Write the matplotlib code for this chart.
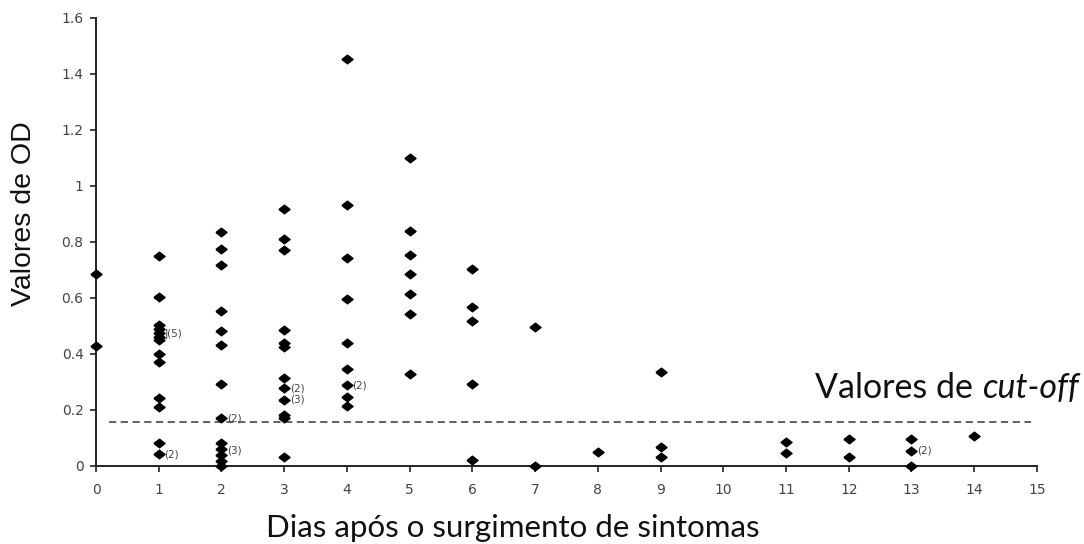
import matplotlib
matplotlib.use("Agg")
import matplotlib.pyplot as plt
from matplotlib.ticker import FuncFormatter

# dias apos o surgimento de sintomas e valores de OD
dia = [0, 0,
       1, 1, 1, 1, 1, 1, 1, 1, 1, 1, 1, 1, 1,
       2, 2, 2, 2, 2, 2, 2, 2, 2, 2, 2, 2, 2,
       3, 3, 3, 3, 3, 3, 3, 3, 3, 3, 3, 3,
       4, 4, 4, 4, 4, 4, 4, 4, 4,
       5, 5, 5, 5, 5, 5, 5,
       6, 6, 6, 6, 6,
       7, 7,
       8,
       9, 9, 9,
       11, 11,
       12, 12,
       13, 13, 13,
       14]
od = [0.687, 0.427,
      0.75, 0.604, 0.505, 0.49, 0.476, 0.462, 0.45, 0.40, 0.37, 0.242, 0.212, 0.083, 0.042,
      0.836, 0.776, 0.717, 0.553, 0.482, 0.432, 0.292, 0.17, 0.081, 0.060, 0.039, 0.019, 0.0,
      0.918, 0.809, 0.770, 0.486, 0.440, 0.426, 0.313, 0.277, 0.236, 0.182, 0.170, 0.033,
      1.452, 0.932, 0.742, 0.595, 0.438, 0.345, 0.289, 0.248, 0.214,
      1.101, 0.839, 0.754, 0.686, 0.614, 0.543, 0.329,
      0.705, 0.569, 0.518, 0.292, 0.021,
      0.498, 0.0,
      0.051,
      0.336, 0.067, 0.033,
      0.087, 0.045,
      0.096, 0.033,
      0.096, 0.054, 0.0,
      0.108]

# contagens repetidas marcadas ao lado dos pontos
rot_dia = [1, 1, 2, 2, 3, 3, 4, 13]
rot_od = [0.476, 0.042, 0.17, 0.055, 0.277, 0.236, 0.289, 0.054]
rot_txt = ["](5)", "(2)", "(2)", "(3)", "(2)", "(3)", "(2)", "(2)"]

cutoff = 0.156

fig = plt.figure(figsize=(10.84, 5.44), dpi=100)
ax = fig.add_axes([0.0886, 0.1434, 0.868, 0.8236])

losango = [(-1, 0), (0, 0.78), (1, 0), (0, -0.78), (-1, 0)]
ax.plot(dia, od, linestyle="none", marker=losango, markersize=8,
        color="black", clip_on=False, zorder=3)

for d, v, t in zip(rot_dia, rot_od, rot_txt):
    ax.annotate(t, (d, v), xytext=(4, 0), textcoords="offset points",
                va="center", ha="left", fontsize=7.5, color="#444444")

ax.hlines(cutoff, 0.2, 14.9, colors="#555555", linestyles=(0, (4, 2.5)), lw=1.3)

ax.set_xlim(0, 15)
ax.set_ylim(0, 1.6)
ax.set_xticks(range(16))
ax.set_yticks([0, 0.2, 0.4, 0.6, 0.8, 1.0, 1.2, 1.4, 1.6])
ax.yaxis.set_major_formatter(FuncFormatter(lambda v, p: "%g" % v))

for s in ["top", "right"]:
    ax.spines[s].set_visible(False)
for s in ["left", "bottom"]:
    ax.spines[s].set_linewidth(1.4)
    ax.spines[s].set_color("#222222")

ax.tick_params(length=4, width=1.2, color="#222222", labelsize=10,
               labelcolor="#444444")
ax.tick_params(axis="x", pad=8)
ax.tick_params(axis="y", pad=5)

fig.text(0.022, 0.607, "Valores de OD", rotation=90, ha="center", va="center",
         fontsize=20.5, family="Liberation Sans", color="#111111")
fig.text(266 / 1084, 1 - 537 / 544, "Dias após o surgimento de sintomas",
         ha="left", va="baseline", fontsize=22.5, family="Lato", color="#111111")

t1 = fig.text(815 / 1084, 1 - 398 / 544, "Valores de ", ha="left",
              va="baseline", fontsize=24.5, family="Lato", color="#111111")
ax.annotate("cut-off", xy=(1, 0), xycoords=t1, ha="left", va="bottom",
            fontsize=24.5, family="Lato", style="italic", color="#111111")

fig.savefig("out.png")
